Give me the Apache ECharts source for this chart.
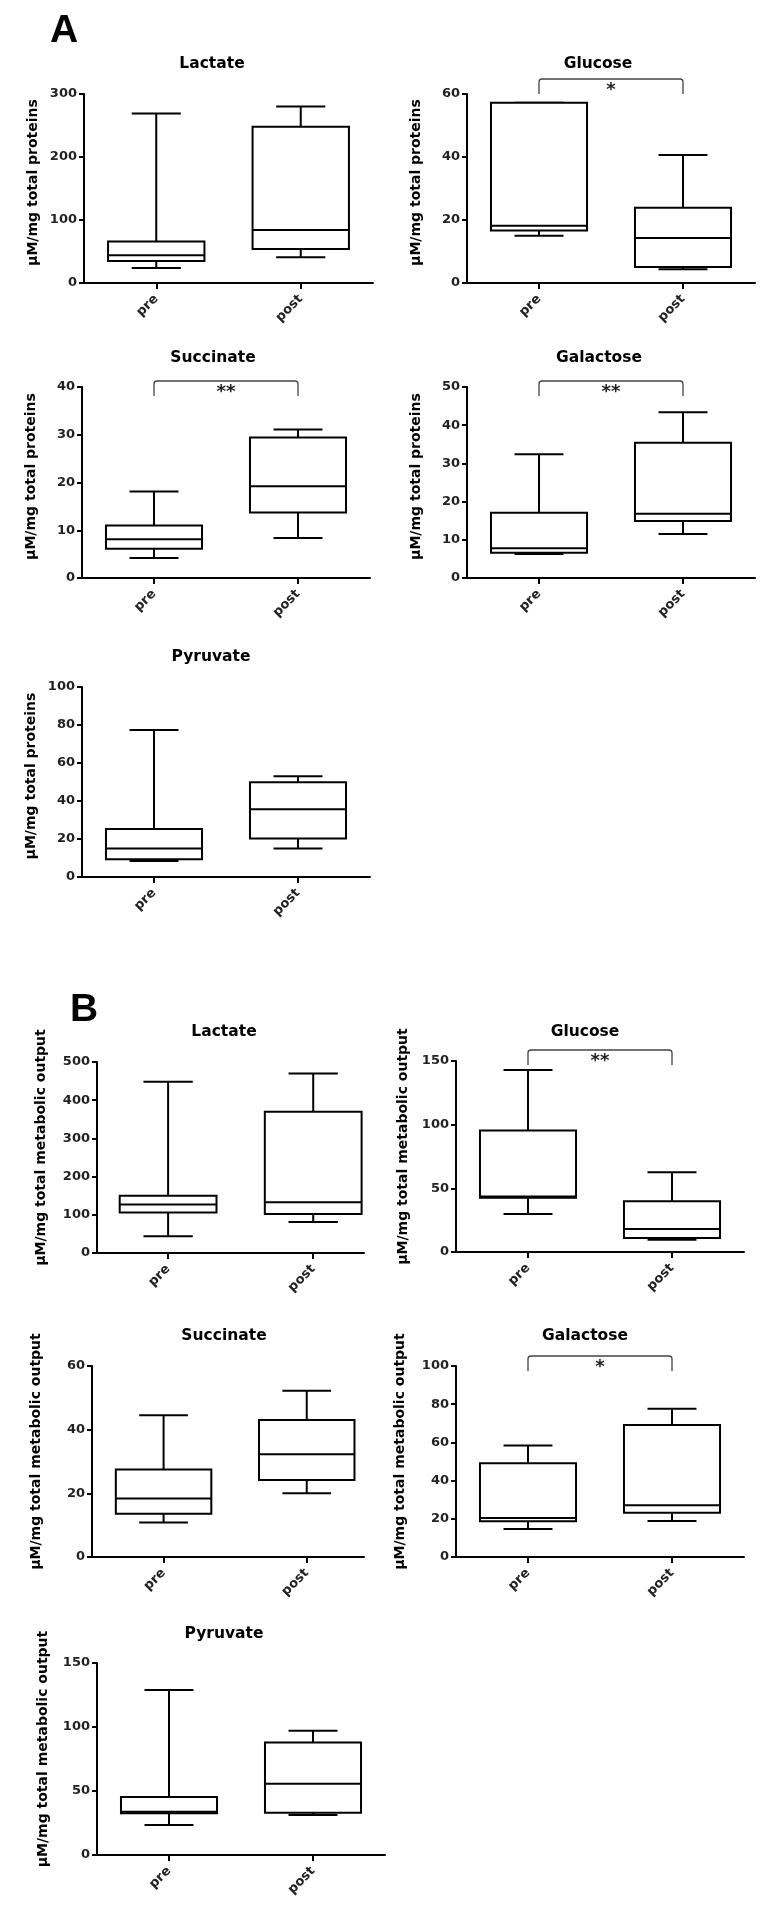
<!DOCTYPE html>
<html><head><meta charset="utf-8">
<script src="https://cdn.jsdelivr.net/npm/echarts@6/dist/echarts.min.js"></script>
<style>html,body{margin:0;padding:0;background:#fff}#c{width:771px;height:1911px}</style>
</head><body><div id="c"></div>
<script>
// ---------- DATA ----------
const categories = ['pre', 'post'];
const groupLetters = ['A', 'B'];
const yAxisNames = ['µM/mg total proteins', 'µM/mg total metabolic output'];
const panelTitles = ['Lactate', 'Glucose', 'Succinate', 'Galactose', 'Pyruvate',
                     'Lactate', 'Glucose', 'Succinate', 'Galactose', 'Pyruvate'];
// each box: [min, Q1, median, Q3, max]
const aLactatePre = [24, 35, 44, 66, 269];
const aLactatePost = [41, 54, 84, 248, 280];
const aGlucosePre = [15.0, 16.7, 18.2, 57.2, 57.2];
const aGlucosePost = [4.4, 5.1, 14.3, 23.9, 40.6];
const aSuccinatePre = [4.2, 6.1, 8.1, 11.0, 18.1];
const aSuccinatePost = [8.4, 13.7, 19.2, 29.4, 31.1];
const aGalactosePre = [6.3, 6.6, 7.8, 17.1, 32.4];
const aGalactosePost = [11.5, 14.9, 16.8, 35.4, 43.4];
const aPyruvatePre = [8.4, 9.4, 15.0, 25.2, 77.4];
const aPyruvatePost = [15.0, 20.3, 35.7, 49.9, 53.0];
const bLactatePre = [44, 106, 127, 150, 448];
const bLactatePost = [81, 102, 133, 370, 470];
const bGlucosePre = [29.8, 42.6, 43.5, 95.5, 142.9];
const bGlucosePost = [9.7, 11.0, 18.1, 39.8, 62.6];
const bSuccinatePre = [10.8, 13.6, 18.4, 27.5, 44.5];
const bSuccinatePost = [20.0, 24.2, 32.3, 43.0, 52.2];
const bGalactosePre = [14.7, 18.7, 20.4, 49.1, 58.4];
const bGalactosePost = [18.9, 23.2, 27.1, 69.1, 77.6];
const bPyruvatePre = [23.5, 32.6, 33.7, 45.4, 128.9];
const bPyruvatePost = [31.3, 33.1, 55.6, 87.9, 97.0];
const yMaxes = [300, 60, 40, 50, 100, 500, 150, 60, 100, 150];
const yIntervals = [100, 20, 10, 10, 20, 100, 50, 20, 20, 50];
const significance = [null, '*', '**', '**', null, null, '**', null, '*', null];

const boxes = [
  [aLactatePre, aLactatePost], [aGlucosePre, aGlucosePost], [aSuccinatePre, aSuccinatePost],
  [aGalactosePre, aGalactosePost], [aPyruvatePre, aPyruvatePost],
  [bLactatePre, bLactatePost], [bGlucosePre, bGlucosePost], [bSuccinatePre, bSuccinatePost],
  [bGalactosePre, bGalactosePost], [bPyruvatePre, bPyruvatePost]
];

// ---------- LAYOUT (positions / styles) ----------
const layout = [
  {left: 84,  top: 94,   width: 289, height: 189, xMin: -0.5,  xMax: 1.5,  gap: 44, pad: 12, title: [212, 64],   br: -15},
  {left: 467, top: 94,   width: 288, height: 189, xMin: -0.5,  xMax: 1.5,  gap: 44, pad: 12, title: [598, 64],   br: -15},
  {left: 82,  top: 387,  width: 288, height: 191, xMin: -0.5,  xMax: 1.5,  gap: 44, pad: 12, title: [213, 358],  br: -6},
  {left: 467, top: 387,  width: 288, height: 191, xMin: -0.5,  xMax: 1.5,  gap: 44, pad: 12, title: [599, 358],  br: -6},
  {left: 82,  top: 687,  width: 288, height: 190, xMin: -0.5,  xMax: 1.5,  gap: 44, pad: 12, title: [211, 657],  br: -6},
  {left: 97,  top: 1062, width: 267, height: 191, xMin: -0.49, xMax: 1.35, gap: 49, pad: 20, title: [224, 1032], br: -10},
  {left: 456, top: 1061, width: 288, height: 191, xMin: -0.5,  xMax: 1.5,  gap: 46, pad: 20, title: [585, 1032], br: -11},
  {left: 92,  top: 1366, width: 272, height: 191, xMin: -0.5,  xMax: 1.4,  gap: 49, pad: 20, title: [224, 1336], br: -10},
  {left: 456, top: 1366, width: 288, height: 191, xMin: -0.5,  xMax: 1.5,  gap: 49, pad: 20, title: [585, 1336], br: -10},
  {left: 97,  top: 1663, width: 288, height: 192, xMin: -0.5,  xMax: 1.5,  gap: 47, pad: 20, title: [224, 1634], br: -10}
];
const letterPos = [[64, 31], [84, 1010]];

const INK = '#000';
const FONT = '"DejaVu Sans", "Liberation Sans", Arial, sans-serif';

function renderBox(params, api) {
  const c = api.value(0);
  const unit = api.size([1, 0])[0];
  const bw = unit * 0.667, cw = unit * 0.34;
  const ys = [1, 2, 3, 4, 5].map(k => api.coord([c, api.value(k)])[1]);
  const x = api.coord([c, 0])[0];
  const [yMin, yQ1, yMed, yQ3, yMx] = ys;
  const st = {stroke: '#000', lineWidth: 2, fill: null};
  return {type: 'group', children: [
    {type: 'line', shape: {x1: x, y1: yQ3, x2: x, y2: yMx}, style: st},
    {type: 'line', shape: {x1: x - cw / 2, y1: yMx, x2: x + cw / 2, y2: yMx}, style: st},
    {type: 'line', shape: {x1: x, y1: yQ1, x2: x, y2: yMin}, style: st},
    {type: 'line', shape: {x1: x - cw / 2, y1: yMin, x2: x + cw / 2, y2: yMin}, style: st},
    {type: 'rect', shape: {x: x - bw / 2, y: yQ3, width: bw, height: yQ1 - yQ3}, style: {stroke: '#000', lineWidth: 2, fill: '#fff'}},
    {type: 'line', shape: {x1: x - bw / 2, y1: yMed, x2: x + bw / 2, y2: yMed}, style: st}
  ]};
}

function makeBracket(i) {
  return function (params, api) {
    const x1 = api.coord([api.value(0), 0])[0];
    const x2 = api.coord([api.value(1), 0])[0];
    const yTop = api.coord([0, api.value(2)])[1];
    const t = yTop + layout[i].br, b = t + 15, r = 3;
    const d = `M${x1} ${b} L${x1} ${t + r} Q${x1} ${t} ${x1 + r} ${t} L${x2 - r} ${t} Q${x2} ${t} ${x2} ${t + r} L${x2} ${b}`;
    return {type: 'group', children: [
      {type: 'path', shape: {pathData: d}, style: {stroke: '#444', lineWidth: 1.3, fill: null}},
      {type: 'text', style: {text: significance[i], x: (x1 + x2) / 2, y: t + 2,
        align: 'center', verticalAlign: 'top', textAlign: 'center', textVerticalAlign: 'top',
        font: 'bold 18px ' + FONT, fill: '#222'}}
    ]};
  };
}

const grids = [], xAxes = [], yAxes = [], series = [], graphic = [];
layout.forEach((L, i) => {
  const g = i < 5 ? 0 : 1;
  grids.push({left: L.left, top: L.top, width: L.width, height: L.height, containLabel: false});
  xAxes.push({
    gridIndex: i, type: 'value', min: L.xMin, max: L.xMax,
    axisLine: {show: true, onZero: false, lineStyle: {color: '#000', width: 2}},
    axisTick: {show: true, length: 6, customValues: [0, 1], lineStyle: {color: '#000', width: 2}},
    axisLabel: {show: true, customValues: [0, 1], rotate: 45, margin: 14,
      formatter: v => categories[Math.round(v)] || '',
      fontFamily: FONT, fontWeight: 'bold', fontSize: 13, color: '#222'},
    splitLine: {show: false}
  });
  yAxes.push({
    gridIndex: i, type: 'value', min: 0, max: yMaxes[i], interval: yIntervals[i],
    name: yAxisNames[g], nameLocation: 'middle', nameGap: L.gap, nameRotate: 90,
    nameTextStyle: {fontFamily: FONT, fontWeight: 'bold', fontSize: 14, color: INK, padding: [0, 0, 0, L.pad]},
    axisLine: {show: true, onZero: false, lineStyle: {color: '#000', width: 2}},
    axisTick: {show: true, length: 5, lineStyle: {color: '#000', width: 2}},
    axisLabel: {show: true, margin: 7, fontFamily: FONT, fontWeight: 'bold', fontSize: 13, color: '#222'},
    splitLine: {show: false}
  });
  series.push({
    type: 'custom', xAxisIndex: i, yAxisIndex: i, renderItem: renderBox,
    encode: {x: 0, y: [1, 2, 3, 4, 5]},
    data: boxes[i].map((b, k) => [k].concat(b)), silent: true
  });
  if (significance[i]) {
    series.push({
      type: 'custom', xAxisIndex: i, yAxisIndex: i, renderItem: makeBracket(i),
      encode: {x: [0, 1], y: 2}, clip: false,
      data: [[0, 1, yMaxes[i]]], silent: true
    });
  }
  graphic.push({type: 'text', x: L.title[0], y: L.title[1], silent: true,
    style: {text: panelTitles[i], font: 'bold 15.5px ' + FONT, fill: INK,
      align: 'center', verticalAlign: 'middle', textAlign: 'center', textVerticalAlign: 'middle'}});
});
groupLetters.forEach((s, k) => {
  graphic.push({type: 'text', x: letterPos[k][0], y: letterPos[k][1], silent: true,
    style: {text: s, font: 'bold 39px "Liberation Sans", Arial, sans-serif', fill: '#000',
      align: 'center', verticalAlign: 'middle', textAlign: 'center', textVerticalAlign: 'middle'}});
});

const chart = echarts.init(document.getElementById('c'), null, {renderer: 'canvas'});
chart.setOption({
  backgroundColor: '#fff', animation: false,
  grid: grids, xAxis: xAxes, yAxis: yAxes, series: series, graphic: graphic
});
</script></body></html>
